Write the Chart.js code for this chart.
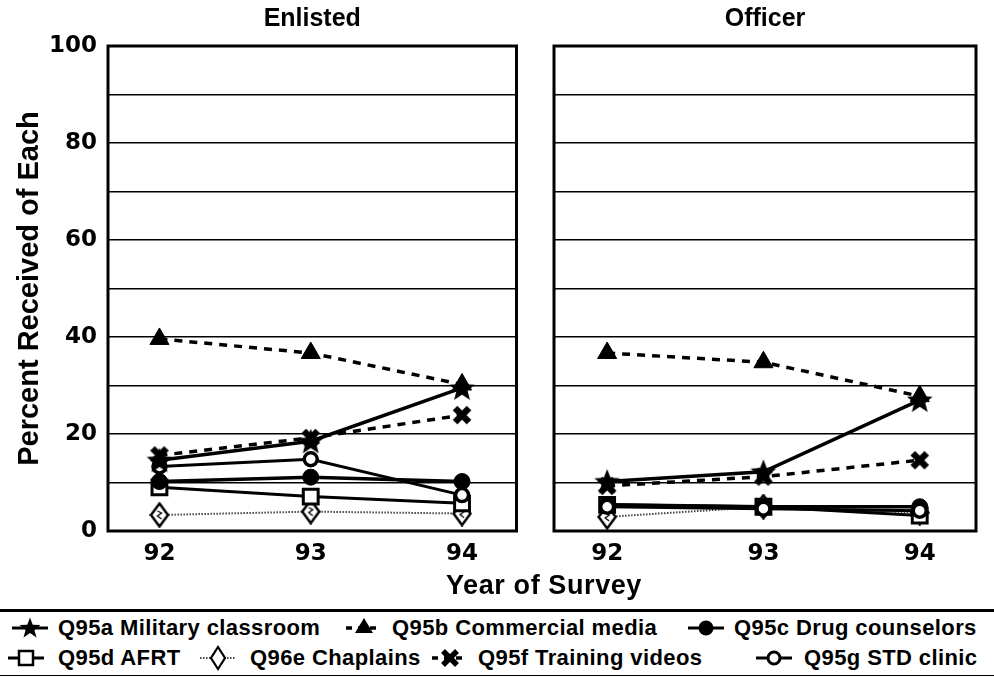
<!DOCTYPE html>
<html><head><meta charset="utf-8">
<script src="https://cdn.jsdelivr.net/npm/chart.js@4/dist/chart.umd.min.js"></script>
<style>
body{margin:0;background:#fff;width:994px;height:678px;overflow:hidden;position:relative;font-family:"Liberation Sans",Arial,sans-serif;color:#000}
#c1{position:absolute;left:0;top:0;}
#c2{position:absolute;left:540px;top:0;}
#xtitle{position:absolute;left:344px;width:400px;top:569px;text-align:center;font-weight:bold;font-size:27px;line-height:32px;letter-spacing:0.6px}
#legend{position:absolute;left:0;top:609px;width:994px;height:63px;border-top:3px solid #000;border-bottom:1.5px solid #000;}
.item{position:absolute;display:flex;align-items:center;font-weight:bold;font-size:22px;letter-spacing:0.4px;white-space:nowrap;height:28px}
.item svg{flex:none}
</style></head>
<body>
<canvas id="c1" width="530" height="580"></canvas>
<canvas id="c2" width="454" height="580"></canvas>
<div id="xtitle">Year of Survey</div>
<div id="legend"></div>
<script>
// ---- data ----
const years = [92, 93, 94];
const panelTitles = ["Enlisted", "Officer"];
const seriesLabels = ["Q95a Military classroom", "Q95b Commercial media", "Q95c Drug counselors",
  "Q95d AFRT", "Q96e Chaplains", "Q95f Training videos", "Q95g STD clinic"];
const yTickLabels = [0, 20, 40, 60, 80, 100];

const enlMilitary   = [14.6, 18.5, 29.5];
const enlCommercial = [39.6, 36.7, 30.2];
const enlDrug       = [10.2, 11.1, 10.2];
const enlAfrt       = [9.0, 7.1, 5.7];
const enlChaplains  = [3.3, 4.0, 3.6];
const enlTraining   = [15.6, 19.2, 23.9];
const enlStd        = [13.3, 14.8, 7.4];

const offMilitary   = [10.2, 12.2, 27.0];
const offCommercial = [36.7, 34.8, 27.8];
const offDrug       = [5.4, 5.0, 5.0];
const offAfrt       = [5.4, 5.0, 3.2];
const offChaplains  = [2.9, 5.0, 3.8];
const offTraining   = [9.3, 11.2, 14.6];
const offStd        = [5.0, 4.6, 4.2];

// ---- marker images ----
function starPath(ctx, cx, cy, ro, ri){
  ctx.beginPath();
  for(let i=0;i<10;i++){
    const r = i%2===0?ro:ri;
    const a = -Math.PI/2 + i*Math.PI/5;
    const x = cx + r*Math.cos(a), y = cy + r*Math.sin(a);
    i===0?ctx.moveTo(x,y):ctx.lineTo(x,y);
  }
  ctx.closePath();
}
function makeStar(){
  const c=document.createElement('canvas'); c.width=c.height=28;
  const x=c.getContext('2d'); starPath(x,14,15,13.5,5.8); x.fillStyle='#000'; x.fill();
  return c;
}
function makeX(){
  const c=document.createElement('canvas'); c.width=c.height=22;
  const x=c.getContext('2d'); x.strokeStyle='#000'; x.lineWidth=6.5; x.lineCap='butt';
  x.beginPath(); x.moveTo(4,4); x.lineTo(18,18); x.moveTo(18,4); x.lineTo(4,18); x.stroke();
  return c;
}
function makeDiamond(){
  const c=document.createElement('canvas'); c.width=20; c.height=26;
  const x=c.getContext('2d');
  x.beginPath(); x.moveTo(10,1.5); x.lineTo(18.5,13); x.lineTo(10,24.5); x.lineTo(1.5,13); x.closePath();
  x.fillStyle='#fff'; x.fill(); x.lineWidth=2.5; x.strokeStyle='#000'; x.stroke();
  x.lineWidth=1.3; x.beginPath(); x.moveTo(8,9); x.lineTo(12,11); x.lineTo(8,14); x.lineTo(12,17); x.stroke();
  return c;
}
const starImg = makeStar(), xImg = makeX(), diamondImg = makeDiamond();

Chart.defaults.font.family = "'Liberation Sans', Arial, sans-serif";
Chart.defaults.color = '#000';
const tickFont = {family:"'DejaVu Sans', sans-serif", size:23, weight:'bold'};

function buildDatasets(mil, com, drug, afrt, chap, train, std){
  return [
    {label:seriesLabels[0], data:mil, borderColor:'#000', borderWidth:3.5, pointStyle:starImg, pointRadius:10},
    {label:seriesLabels[5], data:train, borderColor:'#000', borderWidth:3.5, borderDash:[8,7], pointStyle:xImg, pointRadius:10},
    {label:seriesLabels[1], data:com, borderColor:'#000', borderWidth:3.5, borderDash:[8,7], pointStyle:'triangle', pointRadius:11, pointBackgroundColor:'#000', pointBorderColor:'#000', pointBorderWidth:1},
    {label:seriesLabels[6], data:std, borderColor:'#000', borderWidth:3, pointStyle:'circle', pointRadius:6.5, pointBackgroundColor:'#fff', pointBorderColor:'#000', pointBorderWidth:3.5},
    {label:seriesLabels[2], data:drug, borderColor:'#000', borderWidth:3.5, pointStyle:'circle', pointRadius:8, pointBackgroundColor:'#000', pointBorderColor:'#000', pointBorderWidth:1},
    {label:seriesLabels[3], data:afrt, borderColor:'#000', borderWidth:3, pointStyle:'rect', pointRadius:10.5, pointBackgroundColor:'#fff', pointBorderColor:'#000', pointBorderWidth:3},
    {label:seriesLabels[4], data:chap, borderColor:'#444', borderWidth:2, borderDash:[1.5,1.5], pointStyle:diamondImg, pointRadius:10}
  ].map(d=>Object.assign({fill:false, tension:0, clip:false, pointBackgroundColor:d.pointBackgroundColor||'#000', pointBorderColor:'#000'}, d, {data:d.data.map((v,i)=>({x:years[i], y:v}))}));
}

const framePlugin = {id:'frame', beforeDatasetsDraw(chart){
  const {ctx, chartArea:a} = chart; ctx.save(); ctx.lineWidth=3; ctx.strokeStyle='#000';
  ctx.strokeRect(a.left, a.top, a.right-a.left, a.bottom-a.top); ctx.restore();
}};

function makeChart(id, title, datasets, isLeft){
  return new Chart(document.getElementById(id), {
    type:'line',
    data:{datasets},
    plugins:[framePlugin],
    options:{
      responsive:false, animation:false,
      layout:{padding:{left:0, right:isLeft?6:18, top:0, bottom:0}},
      plugins:{
        legend:{display:false}, tooltip:{enabled:false},
        title:{display:true, text:title, fullSize:false, font:{size:25, weight:'bold'}, color:'#000', padding:{top:4, bottom:12}}
      },
      scales:{
        x:{type:'linear', min:91.66, max:94.36,
          afterBuildTicks(s){ s.ticks = years.map(v=>({value:v})); },
          afterFit(s){ s.height = 49; },
          grid:{display:false, drawTicks:false}, border:{display:false},
          ticks:{font:tickFont, color:'#000', padding:9, callback:v=>String(v)}},
        y:{min:0, max:100,
          afterBuildTicks(s){ const t=[]; for(let v=0; v<=100; v+=10) t.push({value:v}); s.ticks=t; },
          afterFit(s){ s.width = isLeft?108:14; },
          grid:{color:'#000', lineWidth:1.6, drawTicks:false}, border:{display:false},
          title:{display:isLeft, text:'Percent Received of Each', font:{size:29, weight:'bold'}, color:'#000', padding:{top:13, bottom:0}},
          ticks:{display:isLeft, font:tickFont, color:'#000', padding:11,
            callback:v=> yTickLabels.includes(v) ? String(v) : ''}}
      }
    }
  });
}

makeChart('c1', panelTitles[0], buildDatasets(enlMilitary, enlCommercial, enlDrug, enlAfrt, enlChaplains, enlTraining, enlStd), true);
makeChart('c2', panelTitles[1], buildDatasets(offMilitary, offCommercial, offDrug, offAfrt, offChaplains, offTraining, offStd), false);

// ---- legend (HTML) ----
function starPts(cx,cy,ro,ri){let p=[];for(let i=0;i<10;i++){const r=i%2===0?ro:ri;const a=-Math.PI/2+i*Math.PI/5;p.push((cx+r*Math.cos(a)).toFixed(1)+','+(cy+r*Math.sin(a)).toFixed(1));}return p.join(' ');}
const markers = {
  star:`<polygon points="${starPts(20,14.5,11,4.6)}" fill="#000"/>`,
  tri:`<polygon points="20,4 29,19 11,19" fill="#000"/>`,
  dot:`<circle cx="20" cy="14" r="7.5" fill="#000"/>`,
  sq:`<rect x="13" y="7" width="14" height="14" fill="#fff" stroke="#000" stroke-width="2.5"/>`,
  dia:`<polygon points="20,3 27,14 20,25 13,14" fill="#fff" stroke="#000" stroke-width="2.2"/>`,
  x:`<path d="M13,7 L27,21 M27,7 L13,21" stroke="#000" stroke-width="5.5"/>`,
  ring:`<circle cx="20" cy="14" r="6" fill="#fff" stroke="#000" stroke-width="3"/>`
};
function legendSvg(mk, dash, w){
  const line = dash==='dash' ? `<line x1="2" y1="14" x2="${w-2}" y2="14" stroke="#000" stroke-width="3.5" stroke-dasharray="6,6"/>`
    : dash==='dot' ? `<line x1="2" y1="14" x2="${w-2}" y2="14" stroke="#444" stroke-width="2" stroke-dasharray="1.5,1.5"/>`
    : `<line x1="2" y1="14" x2="${w-2}" y2="14" stroke="#000" stroke-width="3"/>`;
  return `<svg width="${w}" height="28" viewBox="0 0 ${w} 28">${line}<g transform="translate(${w/2-20},0)">${markers[mk]}</g></svg>`;
}
const legendItems = [
  {i:0, mk:'star', dash:'solid', left:10, top:2, gap:8},
  {i:1, mk:'tri', dash:'dash', left:344, top:2, gap:8},
  {i:2, mk:'dot', dash:'solid', left:686, top:2, gap:8},
  {i:3, mk:'sq', dash:'solid', left:6, top:32, gap:12},
  {i:4, mk:'dia', dash:'dot', left:198, top:32, gap:12},
  {i:5, mk:'x', dash:'dash', left:430, top:32, gap:8},
  {i:6, mk:'ring', dash:'solid', left:754, top:32, gap:10}
];
const lg = document.getElementById('legend');
legendItems.forEach(it=>{
  const d=document.createElement('div'); d.className='item';
  d.style.left=it.left+'px'; d.style.top=it.top+'px';
  d.innerHTML = legendSvg(it.mk, it.dash, 40) + `<span style="margin-left:${it.gap}px">${seriesLabels[it.i]}</span>`;
  lg.appendChild(d);
});
</script>
</body></html>
